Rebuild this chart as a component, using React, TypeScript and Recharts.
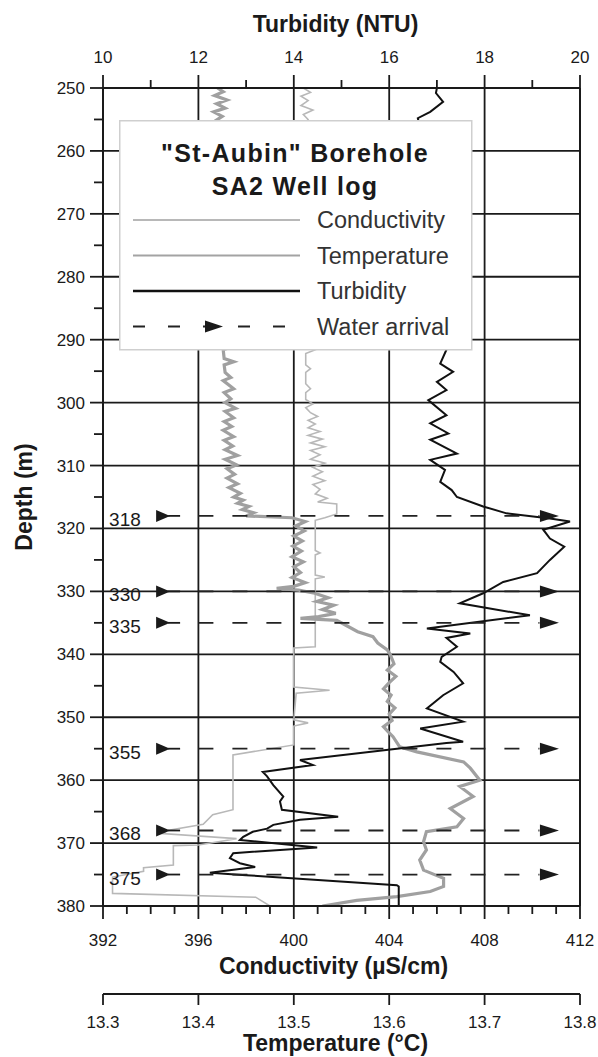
import React from "react";
import {
  ComposedChart,
  Line,
  XAxis,
  YAxis,
  ReferenceLine,
  ReferenceDot,
  Legend,
} from "recharts";

const FONT = "'Liberation Sans', Arial, sans-serif";
const INK = "#1a1a1a";

// [depth (m), turbidity (NTU)]
const turbidity: [number, number][] = [
  [250, 17.0], [250.8, 16.98], [252.2, 17.13], [253.8, 16.86], [254.8, 16.6],
  [258, 16.7], [262, 16.9], [266, 17.1], [270, 16.9], [274, 17.2], [278, 16.9],
  [282, 17.1], [286, 16.9], [290, 17.2],
  [291.6, 17.2], [293.8, 17.07], [295.1, 17.34], [296.7, 17.0], [298.0, 17.2],
  [299.6, 16.82], [302.0, 17.2], [303.3, 16.86], [304.9, 17.24], [305.9, 16.86],
  [308.1, 17.42], [309.1, 16.86], [310.7, 17.17], [312.6, 17.07], [313.9, 17.31],
  [315.0, 17.42], [316.5, 17.97], [317.6, 18.46], [318.4, 19.37], [318.9, 19.79],
  [320.2, 19.23], [321.6, 19.37], [322.9, 19.67], [325.0, 19.37], [327.1, 19.1],
  [328.5, 18.39], [330.3, 17.97], [331.9, 17.48], [333.8, 18.95], [335.9, 16.79],
  [336.7, 17.7], [337.4, 17.2], [338.8, 17.42], [340.4, 17.1], [341.2, 17.07],
  [342.8, 17.35], [344.6, 17.55], [346.5, 17.13], [348.6, 16.79], [350.7, 17.55],
  [351.8, 16.65], [353.9, 17.55], [354.1, 17.2], [356.8, 14.13], [357.6, 14.4],
  [358.7, 13.35], [359.4, 13.44], [360.8, 13.57], [362.6, 13.78], [363.4, 13.71],
  [364.7, 13.75], [365.8, 14.93], [366.3, 14.13], [367.1, 13.57], [367.7, 13.44],
  [368.2, 13.14], [369.0, 12.94], [369.5, 12.87], [370.7, 14.49], [371.6, 12.73],
  [372.4, 12.66], [373.2, 12.87], [373.8, 13.19], [374.7, 12.24], [375.1, 13.0],
  [376.7, 16.16], [376.9, 16.2], [380, 16.2],
];

// [depth (m), conductivity (µS/cm)]
const conductivity: [number, number][] = [
  [250, 400.4], [250.7, 400.7], [251.3, 400.3], [252, 400.6], [252.8, 400.3],
  [253.5, 400.8], [254.2, 400.4], [255, 400.6], [256, 400.4],
  [262, 400.5], [270, 400.5], [280, 400.5], [290, 400.5],
  [291, 400.5], [291.6, 400.9], [292.2, 400.5], [294, 400.5], [294.6, 400.7],
  [295.2, 400.5], [297, 400.5], [297.8, 400.7], [298.4, 400.5], [299.5, 400.5],
  [300.2, 400.8], [300.8, 400.5], [301.6, 400.7], [302.2, 401.0], [302.8, 400.6],
  [303.4, 400.9], [304, 400.6], [304.6, 401.1], [305.2, 400.6], [305.8, 401.2],
  [306.4, 400.7], [307, 401.3], [307.6, 400.7], [308.3, 401.1], [309, 400.7],
  [309.6, 401.3], [310.3, 400.8], [311, 401.2], [311.7, 400.8], [312.4, 401.3],
  [313, 400.8], [313.8, 401.1], [314.5, 400.9], [315.2, 401.4], [315.8, 401.0],
  [316.1, 401.8], [317.7, 401.8], [318.3, 401.3], [318.7, 400.9], [323.5, 400.9],
  [323.9, 401.1], [324.2, 400.9], [327.4, 400.9], [327.7, 401.3], [328, 400.9],
  [338.8, 400.9], [339.0, 400.0], [345.2, 400.0], [345.7, 401.5], [346.2, 400.1],
  [350.4, 400.0], [350.9, 400.6], [351.4, 400.0], [354.4, 400.0], [356.0, 397.45],
  [364.7, 397.45], [365.5, 396.6], [367.0, 396.2], [368.0, 394.7], [368.5, 394.5],
  [369.3, 397.6], [370.3, 396.0], [370.4, 394.95], [373.5, 394.95], [373.9, 393.7],
  [374.5, 393.7], [375.4, 392.4], [378.0, 392.4], [378.6, 398.4], [380, 399.0],
];

// [depth (m), temperature (°C)]
const temperature: [number, number][] = [
  [250, 13.42], [250.6, 13.426], [251.2, 13.417], [251.9, 13.43], [252.5, 13.419],
  [253.2, 13.428], [253.8, 13.416], [254.5, 13.425], [255.2, 13.418], [256, 13.424],
  [262, 13.425], [270, 13.427], [278, 13.425], [286, 13.427],
  [290.5, 13.426], [291.1, 13.436], [291.6, 13.426], [293, 13.427], [293.5, 13.437],
  [294, 13.427], [295.2, 13.428], [296, 13.434], [296.5, 13.426], [297.8, 13.437],
  [298.4, 13.427], [299.4, 13.434], [300, 13.428], [300.9, 13.439], [301.4, 13.428],
  [302.4, 13.437], [303, 13.427], [303.8, 13.435], [304.4, 13.426], [305.4, 13.437],
  [306, 13.427], [306.9, 13.436], [307.5, 13.428], [308.4, 13.441], [309, 13.428],
  [309.9, 13.44], [310.5, 13.43], [311.4, 13.438], [312, 13.43], [312.9, 13.441],
  [313.5, 13.432], [314.4, 13.444], [315, 13.437], [315.5, 13.447], [316, 13.441],
  [316.5, 13.453], [317, 13.446], [317.5, 13.458], [318, 13.45], [318.3, 13.498],
  [318.9, 13.512], [319.6, 13.502], [320.4, 13.511], [321.2, 13.5], [322, 13.509],
  [322.8, 13.499], [323.6, 13.508], [324.5, 13.498], [325.3, 13.51], [326.1, 13.5],
  [327, 13.507], [327.8, 13.498], [328.6, 13.512], [329.2, 13.5], [329.5, 13.482],
  [329.8, 13.505], [330.3, 13.522], [331, 13.536], [331.6, 13.524], [332.2, 13.542],
  [332.9, 13.53], [333.5, 13.544], [334, 13.526], [334.3, 13.507], [334.6, 13.545],
  [335.5, 13.556], [336.4, 13.567], [337.2, 13.583], [338.2, 13.588], [339.3, 13.598],
  [340, 13.601], [341.5, 13.605], [342.5, 13.598], [343.5, 13.607], [344.5, 13.6],
  [345.5, 13.594], [346.5, 13.602], [347.5, 13.598], [348.5, 13.606], [349.5, 13.6],
  [350.5, 13.603], [351.5, 13.594], [352.5, 13.6], [353.1, 13.604], [354.7, 13.611],
  [355.5, 13.629], [357.1, 13.678], [358.1, 13.685], [360, 13.695], [361, 13.674],
  [362.6, 13.688], [364.5, 13.664], [366.1, 13.678], [367.4, 13.671], [368.2, 13.639],
  [369.8, 13.636], [371.1, 13.639], [372.7, 13.632], [374.3, 13.636], [375.6, 13.657],
  [376.9, 13.657], [377.7, 13.643], [378.5, 13.608], [379.1, 13.566], [379.8, 13.538],
  [380, 13.53],
];

const arrivals = [318, 330, 335, 355, 368, 375];

const depthTicks = [
  250, 255, 260, 265, 270, 275, 280, 285, 290, 295, 300, 305, 310, 315, 320, 325,
  330, 335, 340, 345, 350, 355, 360, 365, 370, 375, 380,
];
const turbTicks = [10, 11, 12, 13, 14, 15, 16, 17, 18, 19, 20];
const condTicks = [
  392, 393, 394, 395, 396, 397, 398, 399, 400, 401, 402, 403, 404, 405, 406, 407,
  408, 409, 410, 411, 412,
];
const tempTicks = [13.3, 13.4, 13.5, 13.6, 13.7, 13.8];
const depthGrid = [260, 270, 280, 290, 300, 310, 320, 330, 340, 350, 360, 370];
const turbGrid = [12, 14, 16, 18];

const legendItems = [
  { name: "Conductivity", color: "#b8b8b8", width: 2, dash: undefined },
  { name: "Temperature", color: "#a3a3a3", width: 2.2, dash: undefined },
  { name: "Turbidity", color: "#111", width: 2.6, dash: undefined },
  { name: "Water arrival", color: "#222", width: 2, dash: "12 23" },
];

const turbRows = turbidity.map(([depth, t]) => ({ depth, t }));
const condRows = conductivity.map(([depth, c]) => ({ depth, c }));
const tempRows = temperature.map(([depth, T]) => ({ depth, T }));

const TurbTick = (p: any) => {
  const v = p.payload.value;
  const major = v % 2 === 0;
  return (
    <g>
      <line x1={p.x} x2={p.x} y1={p.y} y2={p.y - (major ? 13 : 8)} stroke={INK} strokeWidth={1.8} />
      {major && (
        <text x={p.x} y={p.y - 25} textAnchor="middle" fontSize={17} fill={INK} fontFamily={FONT}>
          {v}
        </text>
      )}
    </g>
  );
};

const CondTick = (p: any) => {
  const v = p.payload.value;
  const major = (v - 392) % 4 === 0;
  return (
    <g>
      <line x1={p.x} x2={p.x} y1={p.y} y2={p.y + (major ? 13 : 8)} stroke={INK} strokeWidth={1.8} />
      {major && (
        <text x={p.x} y={p.y + 40} textAnchor="middle" fontSize={17} fill={INK} fontFamily={FONT}>
          {v}
        </text>
      )}
    </g>
  );
};

const TempTick = (p: any) => {
  const v = p.payload.value;
  return (
    <g>
      <line x1={p.x} x2={p.x} y1={p.y} y2={p.y + 11} stroke={INK} strokeWidth={1.8} />
      <text x={p.x} y={p.y + 34} textAnchor="middle" fontSize={17} fill={INK} fontFamily={FONT}>
        {v.toFixed(1)}
      </text>
    </g>
  );
};

const DepthTick = (p: any) => {
  const v = p.payload.value;
  const major = v % 10 === 0;
  return (
    <g>
      <line x1={p.x - (major ? 13 : 9)} x2={p.x} y1={p.y} y2={p.y} stroke={INK} strokeWidth={1.8} />
      {major && (
        <text x={p.x - 18} y={p.y + 6} textAnchor="end" fontSize={17} fill={INK} fontFamily={FONT}>
          {v}
        </text>
      )}
    </g>
  );
};

const titleStyle = { fontSize: 23, fontWeight: "bold" as const, fill: INK, fontFamily: FONT };

const turbTitle = (p: any) => {
  const vb = p.viewBox;
  return (
    <text x={vb.x + vb.width / 2 - 6} y={vb.y + 32} textAnchor="middle" {...titleStyle}>
      Turbidity (NTU)
    </text>
  );
};

const condTitle = (p: any) => {
  const vb = p.viewBox;
  return (
    <text x={vb.x + vb.width / 2 - 8} y={vb.y + 68} textAnchor="middle" {...titleStyle}>
      Conductivity (µS/cm)
    </text>
  );
};

const tempTitle = (p: any) => {
  const vb = p.viewBox;
  return (
    <text x={vb.x + vb.width / 2 - 6} y={vb.y + 57} textAnchor="middle" {...titleStyle}>
      Temperature (°C)
    </text>
  );
};

const depthTitle = (p: any) => {
  const vb = p.viewBox;
  return (
    <text
      transform={`translate(32, ${vb.y + vb.height / 2}) rotate(-90)`}
      textAnchor="middle"
      {...titleStyle}
    >
      Depth (m)
    </text>
  );
};

const leftArrow = (depth: number) => (p: any) => (
  <g>
    <polygon
      points={`${p.cx - 7},${p.cy - 6} ${p.cx + 7},${p.cy} ${p.cx - 7},${p.cy + 6}`}
      fill={INK}
    />
    <line x1={p.cx + 5} x2={p.cx + 17} y1={p.cy} y2={p.cy} stroke={INK} strokeWidth={1.8} />
    <text x={p.cx - 54} y={p.cy + 10} fontSize={19} fill={INK} fontFamily={FONT}>
      {depth}
    </text>
  </g>
);

const rightArrow = (p: any) => (
  <polygon
    points={`${p.cx - 10},${p.cy - 6} ${p.cx + 9},${p.cy} ${p.cx - 10},${p.cy + 6}`}
    fill={INK}
  />
);

const renderLegend = () => (
  <svg width={354} height={231} style={{ display: "block" }}>
    <rect x={0.75} y={0.75} width={352} height={229} fill="#fff" stroke="#cfcfcf" strokeWidth={1.5} />
    <text x={176} y={42} textAnchor="middle" fontSize={25} fontWeight="bold" letterSpacing={1.3} fill={INK} fontFamily={FONT}>
      "St-Aubin" Borehole
    </text>
    <text x={176} y={75} textAnchor="middle" fontSize={25} fontWeight="bold" letterSpacing={1.3} fill={INK} fontFamily={FONT}>
      SA2 Well log
    </text>
    {legendItems.map((it, i) => {
      const y = 100 + i * 35.5;
      return (
        <g key={it.name}>
          <line x1={14} x2={181} y1={y} y2={y} stroke={it.color} strokeWidth={it.width} strokeDasharray={it.dash} />
          {it.dash && (
            <polygon points={`${86},${y - 6} ${104},${y} ${86},${y + 6}`} fill={INK} />
          )}
          <text x={198} y={y + 8} fontSize={23.5} fill="#333" fontFamily={FONT}>
            {it.name}
          </text>
        </g>
      );
    })}
  </svg>
);

export default function App() {
  return (
    <div style={{ position: "absolute", left: 0, top: 0, fontFamily: FONT, background: "#fff" }}>
      <ComposedChart
        width={598}
        height={1057}
        layout="vertical"
        margin={{ top: 0, right: 18, bottom: 0, left: 0 }}
      >
        <XAxis
          xAxisId="turb"
          type="number"
          orientation="top"
          domain={[10, 20]}
          ticks={turbTicks}
          interval={0}
          height={88}
          tickSize={0}
          tickMargin={0}
          tickLine={false}
          tick={TurbTick}
          axisLine={{ stroke: INK, strokeWidth: 2 }}
          allowDataOverflow
          label={turbTitle}
        />
        <XAxis
          xAxisId="cond"
          type="number"
          orientation="bottom"
          domain={[392, 412]}
          ticks={condTicks}
          interval={0}
          height={88}
          tickSize={0}
          tickMargin={0}
          tickLine={false}
          tick={CondTick}
          axisLine={{ stroke: INK, strokeWidth: 2 }}
          allowDataOverflow
          label={condTitle}
        />
        <XAxis
          xAxisId="temp"
          type="number"
          orientation="bottom"
          domain={[13.3, 13.8]}
          ticks={tempTicks}
          interval={0}
          height={63}
          tickSize={0}
          tickMargin={0}
          tickLine={false}
          tick={TempTick}
          axisLine={{ stroke: INK, strokeWidth: 2 }}
          allowDataOverflow
          label={tempTitle}
        />
        <YAxis
          type="number"
          dataKey="depth"
          domain={[250, 380]}
          ticks={depthTicks}
          interval={0}
          width={103}
          tickSize={0}
          tickMargin={0}
          tickLine={false}
          tick={DepthTick}
          axisLine={{ stroke: INK, strokeWidth: 2 }}
          allowDataOverflow
          label={depthTitle}
        />

        {turbGrid.map((v) => (
          <ReferenceLine key={`gx${v}`} xAxisId="turb" x={v} stroke={INK} strokeWidth={1.8} ifOverflow="visible" />
        ))}
        {depthGrid.map((v) => (
          <ReferenceLine key={`gy${v}`} xAxisId="turb" y={v} stroke={INK} strokeWidth={1.8} ifOverflow="visible" />
        ))}
        <ReferenceLine xAxisId="turb" x={20} stroke={INK} strokeWidth={2} ifOverflow="visible" />

        <Line
          xAxisId="cond"
          data={condRows}
          dataKey="c"
          type="linear"
          stroke="#b8b8b8"
          strokeWidth={1.6}
          dot={false}
          activeDot={false}
          isAnimationActive={false}
        />
        <Line
          xAxisId="temp"
          data={tempRows}
          dataKey="T"
          type="linear"
          stroke="#a0a0a0"
          strokeWidth={3.2}
          dot={false}
          activeDot={false}
          isAnimationActive={false}
        />
        <Line
          xAxisId="turb"
          data={turbRows}
          dataKey="t"
          type="linear"
          stroke="#111"
          strokeWidth={2}
          dot={false}
          activeDot={false}
          isAnimationActive={false}
        />

        {arrivals.map((d) => (
          <ReferenceLine
            key={`wa${d}`}
            xAxisId="turb"
            segment={[{ x: 12, y: d }, { x: 19.15, y: d }]}
            stroke="#222"
            strokeWidth={1.8}
            strokeDasharray="15 19"
            ifOverflow="visible"
          />
        ))}
        {arrivals.map((d) => (
          <ReferenceDot key={`wl${d}`} xAxisId="turb" x={11.26} y={d} r={1} shape={leftArrow(d)} ifOverflow="visible" />
        ))}
        {arrivals.map((d) => (
          <ReferenceDot key={`wr${d}`} xAxisId="turb" x={19.37} y={d} r={1} shape={rightArrow} ifOverflow="visible" />
        ))}

        <Legend
          layout="horizontal"
          verticalAlign="middle"
          align="center"
          content={renderLegend}
          wrapperStyle={{ left: 119, top: 120, width: 354, height: 231 }}
        />
      </ComposedChart>
    </div>
  );
}
